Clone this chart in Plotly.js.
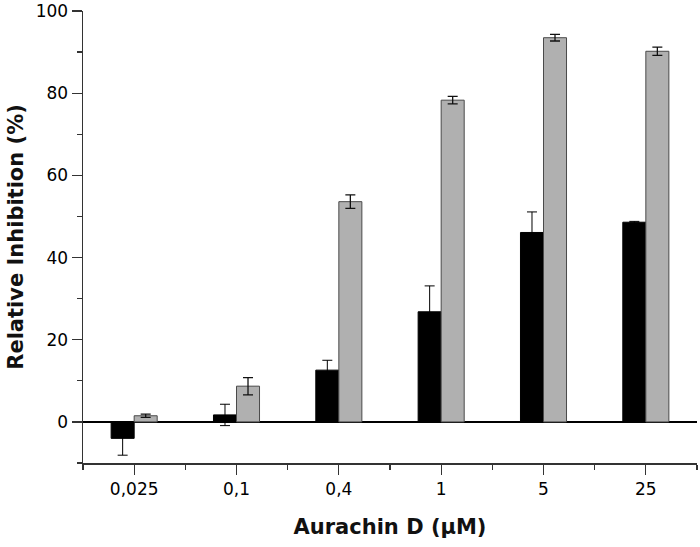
<!DOCTYPE html>
<html>
<head>
<meta charset="utf-8">
<script src="https://cdn.plot.ly/plotly-3.0.1.min.js"></script>
<style>
  body { margin: 0; background: white; }
  #chart { width: 700px; height: 547px; }
</style>
</head>
<body>
<div id="chart"></div>
<script>
const categories = ['0,025', '0,1', '0,4', '1', '5', '25'];
const positions = [0, 1, 2, 3, 4, 5];

const blackValues = [-4.0, 1.7, 12.6, 26.8, 46.1, 48.6];
const blackErrors = [4.1, 2.6, 2.4, 6.3, 5.0, 0.2];

const grayValues = [1.5, 8.7, 53.6, 78.3, 93.5, 90.2];
const grayErrors = [0.4, 2.1, 1.65, 0.9, 0.8, 1.0];

const blackTrace = {
  type: 'bar',
  x: positions,
  y: blackValues,
  marker: { color: '#000000', line: { color: '#000000', width: 1 } },
  error_y: { type: 'data', array: blackErrors, visible: true, color: '#000000', thickness: 1, width: 5 },
  hoverinfo: 'y'
};

const grayTrace = {
  type: 'bar',
  x: positions,
  y: grayValues,
  marker: { color: '#b0b0b0', line: { color: '#4a4a4a', width: 1 } },
  error_y: { type: 'data', array: grayErrors, visible: true, color: '#111111', thickness: 1.3, width: 5 },
  hoverinfo: 'y'
};

const axisFont = { family: 'DejaVu Sans, Arial, sans-serif', size: 17, color: '#000' };
const titleFont = { family: 'DejaVu Sans, Arial, sans-serif', size: 21, color: '#111', weight: 'bold' };

const layout = {
  width: 700,
  height: 547,
  margin: { l: 83, r: 3, t: 11, b: 84 },
  paper_bgcolor: 'white',
  plot_bgcolor: 'white',
  showlegend: false,
  barmode: 'group',
  bargap: 0.55,
  bargroupgap: 0,
  xaxis: {
    range: [-0.5, 5.5],
    tickmode: 'array',
    tickvals: positions,
    ticktext: categories,
    ticks: 'outside',
    ticklen: 10,
    tickwidth: 1.3,
    tickcolor: '#333',
    minor: { tickmode: 'linear', tick0: -0.5, dtick: 1, ticks: 'outside', ticklen: 5, tickwidth: 1.3, tickcolor: '#333' },
    showline: true,
    linecolor: '#333',
    linewidth: 1.5,
    showgrid: false,
    zeroline: false,
    tickfont: axisFont,
    title: { text: 'Aurachin D (μM)', font: titleFont, standoff: 21 },
    automargin: false
  },
  yaxis: {
    range: [-10, 100],
    tickmode: 'linear',
    tick0: 0,
    dtick: 20,
    ticks: 'outside',
    ticklen: 10,
    tickwidth: 1.3,
    tickcolor: '#333',
    minor: { tickmode: 'linear', tick0: -10, dtick: 20, ticks: 'outside', ticklen: 5, tickwidth: 1.3, tickcolor: '#333' },
    showline: true,
    linecolor: '#333',
    linewidth: 1.5,
    showgrid: false,
    zeroline: true,
    zerolinecolor: '#000',
    zerolinewidth: 1.5,
    tickfont: axisFont,
    title: { text: 'Relative Inhibition (%)', font: titleFont, standoff: 6 },
    automargin: false
  }
};

Plotly.newPlot('chart', [blackTrace, grayTrace], layout, { displayModeBar: false, staticPlot: true });
</script>
</body>
</html>
